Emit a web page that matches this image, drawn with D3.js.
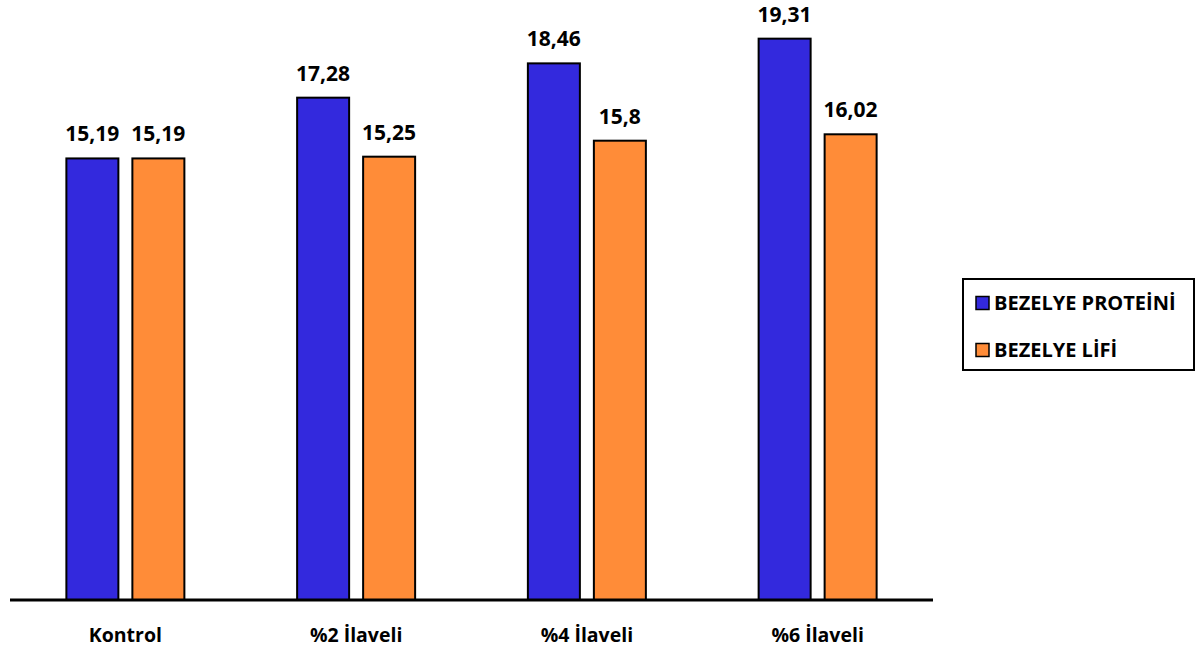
<!DOCTYPE html>
<html><head><meta charset="utf-8">
<script src="https://cdn.jsdelivr.net/npm/d3@7"></script>
<style>body{margin:0;background:#fff}svg{display:block}text{font-family:"Open Sans",sans-serif;font-weight:700;fill:#000}</style>
</head><body><svg id="c" width="1203" height="650"></svg>
<script>
const categories = ["Kontrol", "%2 İlaveli", "%4 İlaveli", "%6 İlaveli"];
const seriesNames = ["BEZELYE PROTEİNİ", "BEZELYE LİFİ"];
const proteinValues = [15.19, 17.28, 18.46, 19.31];
const fiberValues = [15.19, 15.25, 15.8, 16.02];
const valueLabels = [["15,19","17,28","18,46","19,31"],["15,19","15,25","15,8","16,02"]];
const colors = ["#3329DD", "#FF8C38"];

const svg = d3.select("#c");
const x = d3.scaleBand().domain(categories).range([10, 933]).paddingInner(0).paddingOuter(0);
const y = d3.scaleLinear().domain([0, 20]).range([600, 18.6]);
const inner = d3.scaleBand().domain([0,1]).range([-59, 59]).paddingInner(14/66);

const series = [proteinValues, fiberValues];
series.forEach((vals, si) => {
  const g = svg.append("g");
  g.selectAll("rect").data(vals).join("rect")
    .attr("x", (d,i) => x(categories[i]) + x.bandwidth()/2 + inner(si))
    .attr("y", d => y(d))
    .attr("width", inner.bandwidth())
    .attr("height", d => y(0) - y(d))
    .attr("fill", colors[si]).attr("stroke", "#000").attr("stroke-width", 2);
  g.selectAll("text").data(vals).join("text")
    .attr("x", (d,i) => x(categories[i]) + x.bandwidth()/2 + inner(si) + inner.bandwidth()/2)
    .attr("y", d => y(d) - 17)
    .attr("text-anchor", "middle").attr("font-size", 21)
    .text((d,i) => valueLabels[si][i]);
});

const axis = svg.append("g").attr("transform", "translate(0,600)")
  .call(d3.axisBottom(x).tickSize(0).tickPadding(28));
axis.select(".domain").attr("stroke", "#000").attr("stroke-width", 3).attr("d", "M10,0H933");
axis.selectAll("text").attr("font-size", 19.5).attr("font-family", "'Open Sans',sans-serif").attr("font-weight", 700).attr("fill", "#000");

const lg = svg.append("g");
lg.append("rect").attr("x", 963).attr("y", 279).attr("width", 231).attr("height", 91)
  .attr("fill", "#fff").attr("stroke", "#000").attr("stroke-width", 2);
const ly = d3.scalePoint().domain(seriesNames).range([303, 350]);
seriesNames.forEach((n, i) => {
  lg.append("rect").attr("x", 976).attr("y", ly(n) - 6.5).attr("width", 13).attr("height", 13)
    .attr("fill", colors[i]).attr("stroke", "#000").attr("stroke-width", 1.5);
  lg.append("text").attr("x", 994).attr("y", ly(n) + 7).attr("font-size", 20).text(n);
});
</script></body></html>
